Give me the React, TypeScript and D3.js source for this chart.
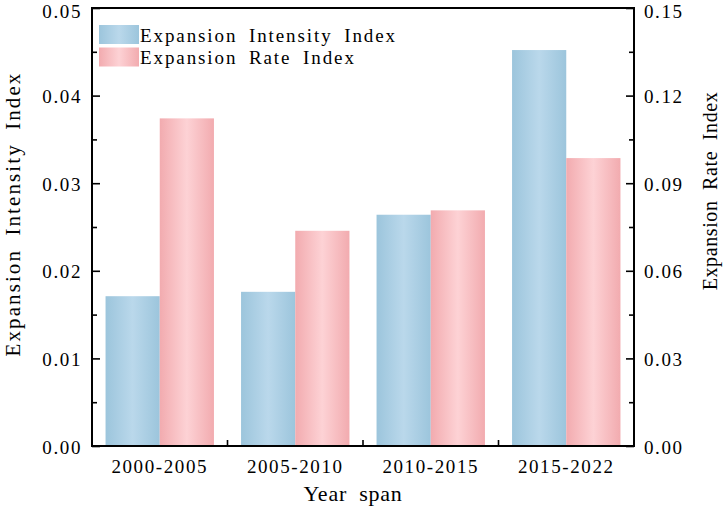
import { useEffect, useRef } from 'react'
import * as d3 from 'd3'

const categories = ['2000-2005', '2005-2010', '2010-2015', '2015-2022']
const intensityValues = [0.0171, 0.0176, 0.0264, 0.0452]
const rateValues = [0.1122, 0.0737, 0.0807, 0.0986]
const leftTicks = [0, 0.01, 0.02, 0.03, 0.04, 0.05]
const rightTicks = [0, 0.03, 0.06, 0.09, 0.12, 0.15]
const seriesNames = ['Expansion Intensity Index', 'Expansion Rate Index']

const FONT = '"Liberation Serif", serif'

export default function App() {
  const ref = useRef<SVGSVGElement | null>(null)
  useEffect(() => {
    if (!ref.current) return
    const svg = d3.select(ref.current)
    svg.selectAll('*').remove()
    const width = 726
    const height = 509
    const margin = { top: 8, right: 92, bottom: 63, left: 92 }
    const x = d3
      .scaleBand()
      .domain(categories)
      .range([margin.left, width - margin.right])
      .paddingInner(0.2)
      .paddingOuter(0.1)
    const inner = d3.scaleBand().domain(['a', 'b']).range([0, x.bandwidth()])
    const yL = d3.scaleLinear().domain([0, 0.05]).range([height - margin.bottom, margin.top])
    const yR = d3.scaleLinear().domain([0, 0.15]).range([height - margin.bottom, margin.top])

    const defs = svg.append('defs')
    const grad = (id: string, edge: string, mid: string) => {
      const g = defs.append('linearGradient').attr('id', id).attr('x1', 0).attr('x2', 1).attr('y1', 0).attr('y2', 0)
      g.append('stop').attr('offset', '0%').attr('stop-color', edge)
      g.append('stop').attr('offset', '50%').attr('stop-color', mid)
      g.append('stop').attr('offset', '100%').attr('stop-color', edge)
    }
    grad('gBlue', '#9cc5dc', '#bad8eb')
    grad('gPink', '#f2abaf', '#fdd2d5')

    svg
      .append('g')
      .selectAll('rect')
      .data(categories)
      .enter()
      .append('rect')
      .attr('x', (d) => x(d)! + inner('a')!)
      .attr('y', (_, i) => yL(intensityValues[i]))
      .attr('width', inner.bandwidth())
      .attr('height', (_, i) => yL(0) - yL(intensityValues[i]))
      .attr('fill', 'url(#gBlue)')
    svg
      .append('g')
      .selectAll('rect')
      .data(categories)
      .enter()
      .append('rect')
      .attr('x', (d) => x(d)! + inner('b')!)
      .attr('y', (_, i) => yR(rateValues[i]))
      .attr('width', inner.bandwidth())
      .attr('height', (_, i) => yR(0) - yR(rateValues[i]))
      .attr('fill', 'url(#gPink)')

    const x0 = margin.left
    const x1 = width - margin.right
    const y0 = height - margin.bottom
    const y1 = margin.top
    const fmt = d3.format('.2f')

    const styleAxis = (g: d3.Selection<SVGGElement, unknown, null, undefined>) => {
      g.select('.domain').remove()
      g.selectAll('line').attr('stroke', '#000').attr('stroke-width', 1.6)
      g.selectAll('text')
        .attr('font-family', FONT)
        .attr('font-size', 19)
        .attr('letter-spacing', 1.6)
        .attr('fill', '#000')
    }

    // minor ticks
    const minorL = d3.range(0.005, 0.05, 0.01)
    const minorR = d3.range(0.015, 0.15, 0.03)
    svg
      .append('g')
      .attr('transform', `translate(${x0},0)`)
      .call(d3.axisRight(yL).tickValues(minorL).tickSize(5).tickFormat(() => ''))
      .call(styleAxis)
    svg
      .append('g')
      .attr('transform', `translate(${x1},0)`)
      .call(d3.axisLeft(yR).tickValues(minorR).tickSize(5).tickFormat(() => ''))
      .call(styleAxis)

    const left = svg
      .append('g')
      .attr('transform', `translate(${x0},0)`)
      .call(d3.axisLeft(yL).tickValues(leftTicks).tickSize(-8).tickPadding(10).tickFormat((d) => fmt(d as number)))
      .call(styleAxis)
    const right = svg
      .append('g')
      .attr('transform', `translate(${x1},0)`)
      .call(d3.axisRight(yR).tickValues(rightTicks).tickSize(-8).tickPadding(10).tickFormat((d) => fmt(d as number)))
      .call(styleAxis)
    // labels sit a touch below their ticks; the top ones a bit more
    left.selectAll('text').attr('y', 1)
    right.selectAll('text').attr('y', 1)
    left.selectAll<SVGTextElement, number>('text').filter((d) => d === 0.05).attr('y', 3)
    right.selectAll<SVGTextElement, number>('text').filter((d) => d === 0.15).attr('y', 3)

    const xAxis = svg
      .append('g')
      .attr('transform', `translate(0,${y0})`)
      .call(d3.axisBottom(x).tickSize(0).tickPadding(13.5))
      .call(styleAxis)
    // boundary ticks between categories
    categories.slice(1).forEach((c) => {
      const bx = x(c)! - (x.step() * x.paddingInner()) / 2
      xAxis.append('line').attr('x1', bx).attr('x2', bx).attr('y1', 0).attr('y2', -6).attr('stroke', '#000').attr('stroke-width', 1.6)
    })

    svg
      .append('rect')
      .attr('x', x0)
      .attr('y', y1)
      .attr('width', x1 - x0)
      .attr('height', y0 - y1)
      .attr('fill', 'none')
      .attr('stroke', '#000')
      .attr('stroke-width', 2)

    const label = (t: string, size: number, ls: number, ws: number) =>
      svg
        .append('text')
        .attr('font-family', FONT)
        .attr('font-size', size)
        .attr('letter-spacing', ls)
        .attr('word-spacing', ws)
        .text(t)

    // axis titles
    label('Year span', 22, 0.75, 6).attr('text-anchor', 'middle').attr('x', 353).attr('y', 501)
    label('Expansion Intensity Index', 21, 2.1, 6)
      .attr('text-anchor', 'middle')
      .attr('transform', `translate(20,214) rotate(-90)`)
    label('Expansion Rate Index', 20, 0.6, 5)
      .attr('text-anchor', 'middle')
      .attr('transform', `translate(717,191) rotate(-90)`)

    // legend
    const legend = svg.append('g').attr('transform', 'translate(99,25)')
    seriesNames.forEach((name, i) => {
      legend
        .append('rect')
        .attr('x', 0)
        .attr('y', i * 22.5)
        .attr('width', 40)
        .attr('height', 19)
        .attr('fill', i === 0 ? 'url(#gBlue)' : 'url(#gPink)')
      legend
        .append('text')
        .attr('x', 41)
        .attr('y', i * 22.5 + 16.5)
        .attr('font-family', FONT)
        .attr('font-size', 19)
        .attr('letter-spacing', 1.9)
        .attr('word-spacing', 5)
        .text(name)
    })
  }, [])
  return <svg ref={ref} width={726} height={509} style={{ position: 'absolute', left: 0, top: 0 }} />
}
